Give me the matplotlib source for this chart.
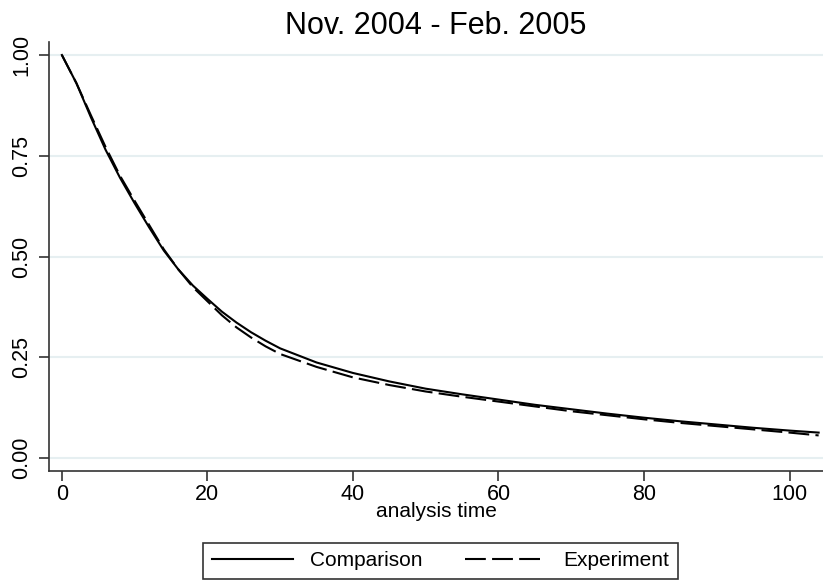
import matplotlib
matplotlib.use("Agg")
import matplotlib.pyplot as plt

plt.rcParams['font.family'] = ['Liberation Sans', 'DejaVu Sans']

title = "Nov. 2004 - Feb. 2005"
xlabel = "analysis time"
series_names = ["Comparison", "Experiment"]

time = [0, 2, 4, 6, 8, 10, 12, 14, 16, 18, 20, 22, 24, 26, 28, 30, 35, 40, 45, 50,
        55, 60, 65, 70, 75, 80, 85, 90, 95, 100, 104]
comparison = [1.0, 0.93, 0.845, 0.765, 0.695, 0.632, 0.572, 0.515, 0.468, 0.428, 0.395,
              0.363, 0.336, 0.312, 0.291, 0.272, 0.237, 0.211, 0.19, 0.172, 0.158, 0.145,
              0.132, 0.121, 0.11, 0.1, 0.091, 0.083, 0.075, 0.068, 0.063]
experiment = [1.0, 0.93, 0.85, 0.772, 0.7, 0.638, 0.578, 0.518, 0.468, 0.424, 0.389,
              0.354, 0.324, 0.299, 0.277, 0.258, 0.226, 0.2, 0.181, 0.165, 0.152, 0.14,
              0.128, 0.116, 0.106, 0.096, 0.087, 0.079, 0.071, 0.063, 0.056]

xticks = [0, 20, 40, 60, 80, 100]
yticks = [0.0, 0.25, 0.5, 0.75, 1.0]
ytick_labels = ["0.00", "0.25", "0.50", "0.75", "1.00"]

W, H = 823, 583
fig = plt.figure(figsize=(W / 100, H / 100), dpi=100)
ax = fig.add_axes([49 / W, 1 - 471 / H, 1 - 49 / W, (471 - 42) / H])

for y in yticks:
    ax.axhline(y, color='#e6eff1', lw=1.5, zorder=0)

l1, = ax.plot(time, comparison, color='black', lw=1.5, label=series_names[0])
l2, = ax.plot(time, experiment, color='black', lw=1.5, dashes=(10, 3), label=series_names[1])

ax.set_xlim(-1.77, 104.6)
ax.set_ylim(-0.0323, 1.0323)
ax.set_xticks(xticks)
ax.set_xticklabels([str(x) for x in xticks])
ax.set_yticks(yticks)
ax.set_yticklabels(ytick_labels, rotation=90, va='center')

for s in ['top', 'right']:
    ax.spines[s].set_visible(False)
for s in ['left', 'bottom']:
    ax.spines[s].set_color('#333333')
    ax.spines[s].set_linewidth(1.2)

ax.tick_params(axis='both', length=7, width=1.2, color='#333333', labelsize=15.5, pad=4)
ax.tick_params(axis='y', pad=5)
ax.tick_params(axis='x', pad=2)
ax.set_xlabel(xlabel, fontsize=15, labelpad=-2)
ax.set_title(title, fontsize=22, pad=6)

leg = fig.legend(handles=[l1, l2], labels=series_names, loc='upper center',
                 bbox_to_anchor=(440.5 / W, 1 - 543 / H), ncol=2, fontsize=15,
                 frameon=True, fancybox=False, edgecolor='black', handlelength=3.9,
                 handletextpad=0.85, columnspacing=2.0, borderpad=0.4,
                 borderaxespad=0)
leg.get_frame().set_linewidth(1.2)

fig.savefig("out.png", dpi=100, facecolor='white')
